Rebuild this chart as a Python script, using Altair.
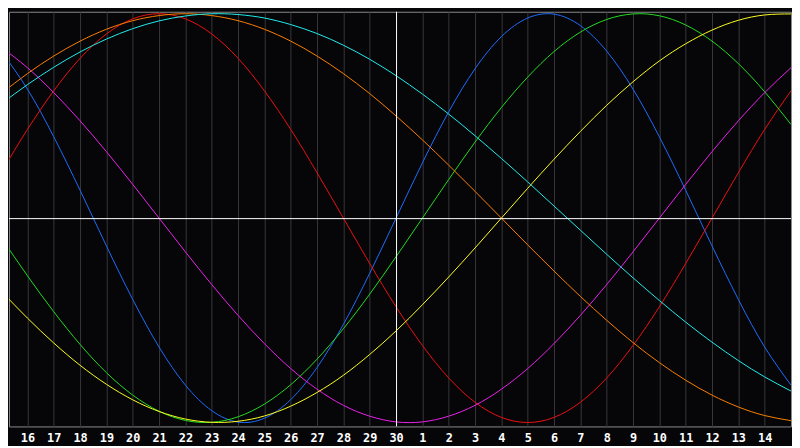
import altair as alt
import pandas as pd

# day index 0..30 (15th of previous month .. 15th of next month)
day_labels = ["15", "16", "17", "18", "19", "20", "21", "22", "23", "24", "25", "26", "27", "28", "29", "30",
              "1", "2", "3", "4", "5", "6", "7", "8", "9", "10", "11", "12", "13", "14", "15"]
day_index = list(range(31))

physical = [0.817, 0.631, 0.398, 0.136, -0.136, -0.398, -0.631, -0.817, -0.942, -0.998, -0.979, -0.888, -0.731, -0.520, -0.270,
            0.000, 0.270, 0.520, 0.731, 0.888, 0.979, 0.998, 0.942, 0.817, 0.631, 0.398, 0.136, -0.136, -0.398, -0.631, -0.817]
emotional = [0.222, 0.434, 0.623, 0.782, 0.901, 0.975, 1.000, 0.975, 0.901, 0.782, 0.623, 0.434, 0.222, 0.000, -0.222,
             -0.434, -0.623, -0.782, -0.901, -0.975, -1.000, -0.975, -0.901, -0.782, -0.623, -0.434, -0.222, 0.000, 0.222, 0.434, 0.623]
intellectual = [-0.095, -0.282, -0.458, -0.618, -0.756, -0.866, -0.945, -0.990, -0.999, -0.972, -0.910, -0.815, -0.690, -0.541, -0.372,
                -0.189, 0.000, 0.189, 0.372, 0.541, 0.690, 0.815, 0.910, 0.972, 0.999, 0.990, 0.945, 0.866, 0.756, 0.618, 0.458]
intuitive = [0.837, 0.736, 0.614, 0.476, 0.325, 0.165, 0.000, -0.165, -0.325, -0.476, -0.614, -0.736, -0.837, -0.916, -0.969,
             -0.997, -0.997, -0.969, -0.916, -0.837, -0.736, -0.614, -0.476, -0.325, -0.165, 0.000, 0.165, 0.325, 0.476, 0.614, 0.736]
aesthetic = [-0.357, -0.489, -0.611, -0.720, -0.813, -0.889, -0.946, -0.983, -0.999, -0.994, -0.968, -0.920, -0.853, -0.769, -0.667,
             -0.552, -0.424, -0.288, -0.146, 0.000, 0.146, 0.288, 0.424, 0.552, 0.667, 0.769, 0.853, 0.920, 0.968, 0.994, 0.999]
awareness = [0.609, 0.707, 0.793, 0.866, 0.924, 0.966, 0.991, 1.000, 0.991, 0.966, 0.924, 0.866, 0.793, 0.707, 0.609,
             0.500, 0.383, 0.259, 0.131, 0.000, -0.131, -0.259, -0.383, -0.500, -0.609, -0.707, -0.793, -0.866, -0.924, -0.966, -0.991]
spiritual = [0.559, 0.653, 0.738, 0.813, 0.876, 0.927, 0.965, 0.989, 1.000, 0.996, 0.979, 0.947, 0.903, 0.846, 0.777,
             0.697, 0.607, 0.509, 0.403, 0.292, 0.177, 0.059, -0.059, -0.177, -0.292, -0.403, -0.509, -0.607, -0.697, -0.777, -0.846]

series_names = ["physical", "emotional", "intellectual", "intuitive", "aesthetic", "awareness", "spiritual"]
series_values = [physical, emotional, intellectual, intuitive, aesthetic, awareness, spiritual]
series_colors = ["#1e6eff", "#f01010", "#22dd22", "#ee22ee", "#ffff22", "#ff8000", "#22eeee"]

rows = []
for name, vals in zip(series_names, series_values):
    for i, v in zip(day_index, vals):
        rows.append({"idx": i, "series": name, "value": v})
df = pd.DataFrame(rows)

today_index = [15]
zero_level = [0.0]

label_expr = "[" + ",".join("'%s'" % d for d in day_labels) + "][datum.value]"

x_scale = alt.Scale(domain=[0.3, 30], nice=False, zero=False)
y_scale = alt.Scale(domain=[-1.0193, 1.0097], nice=False, zero=False)

x_axis = alt.Axis(
    values=day_index[1:30],
    labelExpr=label_expr,
    grid=True,
    gridColor="#38383c",
    gridWidth=1,
    ticks=False,
    domain=False,
    labelColor="#ffffff",
    labelFont="DejaVu Sans Mono",
    labelFontWeight="bold",
    labelFontSize=12,
    labelPadding=6,
    labelAngle=0,
    labelFlush=False,
    labelOverlap=False,
    labelSeparation=0,
    title=None,
)

lines = alt.Chart(df).mark_line(strokeWidth=1, interpolate="natural", clip=True).encode(
    x=alt.X("idx:Q", scale=x_scale, axis=x_axis),
    y=alt.Y("value:Q", scale=y_scale, axis=None),
    color=alt.Color("series:N", scale=alt.Scale(domain=series_names, range=series_colors), legend=None),
    detail="series:N",
)

vrule = alt.Chart(pd.DataFrame({"idx": today_index})).mark_rule(color="#ffffff", strokeWidth=1, xOffset=0.5).encode(
    x=alt.X("idx:Q", scale=x_scale, axis=x_axis)
)
hrule = alt.Chart(pd.DataFrame({"value": zero_level})).mark_rule(color="#ffffff", strokeWidth=1, yOffset=0.5).encode(
    y=alt.Y("value:Q", scale=y_scale, axis=None)
)

chart = alt.layer(lines, vrule, hrule).properties(
    width=792, height=420, padding=0, background="#060609"
).configure_view(
    stroke="#8c8c8c", strokeWidth=1, fill="#060609"
)

chart.save("out.html", embed_options={"renderer": "svg", "actions": False})
